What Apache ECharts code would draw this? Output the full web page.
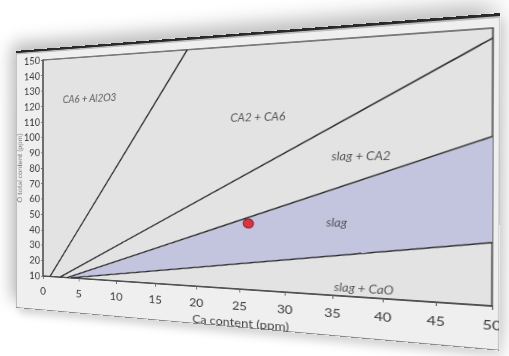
<!DOCTYPE html>
<html>
<head>
<meta charset="utf-8">
<script src="https://cdn.jsdelivr.net/npm/echarts@6/dist/echarts.min.js"></script>
<style>
  html, body { margin: 0; padding: 0; width: 509px; height: 356px; overflow: hidden; background: #ffffff; }
  #panel {
    position: absolute; left: 0; top: 0; width: 524px; height: 351px;
    background: #efefef; overflow: hidden;
    transform-origin: 0 0;
    box-shadow: inset 0 3px 0 #2a2a2a, inset 0 5px 0 #bdbdbd, inset 1px 0 0 #9a9a9a, inset 0 -1px 0 #8a8a8a, inset -1px 0 0 #c8c8c8;
  }
  #shadow {
    position: absolute; left: 0; top: 0; width: 524px; height: 351px;
    transform-origin: 0 0; background: transparent;
    box-shadow: -6px -10px 22px rgba(0,0,0,0.28), 4px 8px 10px rgba(0,0,0,0.12);
  }
  #chart { position: absolute; left: 0; top: 0; width: 524px; height: 351px; }
</style>
</head>
<body>
<div id="shadow"></div>
<div id="panel"><div id="chart"></div></div>
<script>
// ---- data ----
const xTicks = [0, 5, 10, 15, 20, 25, 30, 35, 40, 45, 50];
const yTicks = [10, 20, 30, 40, 50, 60, 70, 80, 90, 100, 110, 120, 130, 140, 150];
const lineCA6Al2O3 = [[1.0, 10], [18.9, 150]];   // CA6+Al2O3 / CA2+CA6
const lineCA2CA6 = [[2.4, 10], [50, 145]];       // CA2+CA6 / slag+CA2
const lineSlagCA2 = [[3.4, 10], [50, 95.5]];     // slag+CA2 / slag
const lineSlagCaO = [[3.9, 10], [50, 42]];       // slag / slag+CaO
const slagRegion = [[3.4, 10], [50, 95.5], [50, 42], [3.9, 10]];
const regionNames = ['CA6 + Al2O3', 'CA2 + CA6', 'slag + CA2', 'slag', 'slag + CaO'];
const regionX = [6.4, 27, 37.8, 35.4, 38.1];
const regionY = [124, 109, 86, 50, 15];
const measuredPoint = [[26, 48]];
const xTitle = 'Ca content (ppm)';
const yTitle = 'O total content (ppm)';

// ---- perspective of the photographed panel ----
function homography(src, dst) {
  const A = [], B = [];
  for (let i = 0; i < 4; i++) {
    const [u, v] = src[i], [x, y] = dst[i];
    A.push([u, v, 1, 0, 0, 0, -u * x, -v * x]); B.push(x);
    A.push([0, 0, 0, u, v, 1, -u * y, -v * y]); B.push(y);
  }
  const n = 8;
  for (let c = 0; c < n; c++) {
    let p = c;
    for (let r = c + 1; r < n; r++) if (Math.abs(A[r][c]) > Math.abs(A[p][c])) p = r;
    [A[c], A[p]] = [A[p], A[c]]; [B[c], B[p]] = [B[p], B[c]];
    for (let r = 0; r < n; r++) {
      if (r === c) continue;
      const f = A[r][c] / A[c][c];
      for (let k = c; k < n; k++) A[r][k] -= f * A[c][k];
      B[r] -= f * B[c];
    }
  }
  return B.map((b, i) => b / A[i][i]);
}
const G = { left: 38, top: 15, right: 6, bottom: 46 };
const W = 524, H = 351;
const src = [[G.left, G.top], [W - G.right, G.top], [W - G.right, H - G.bottom], [G.left, H - G.bottom]];
const dst = [[43, 60], [493, 28], [492, 306], [43, 276]];
const [a, b, c, d, e, f, g, h] = homography(src, dst);
const m3d = `matrix3d(${a},${d},0,${g},${b},${e},0,${h},0,0,1,0,${c},${f},0,1)`;
document.getElementById('panel').style.transform = m3d;
document.getElementById('shadow').style.transform = m3d;

// ---- chart ----
const chart = echarts.init(document.getElementById('chart'), null, { renderer: 'svg' });
const font = 'Lato, "Open Sans", sans-serif';
const lineStyle = { color: '#2b2b2b', width: 1.5 };
const boundary = (data) => ({
  type: 'line', data, symbol: 'none', lineStyle, z: 3, silent: true, animation: false
});
chart.setOption({
  animation: false,
  textStyle: { fontFamily: font },
  grid: { left: G.left, top: G.top, right: G.right, bottom: G.bottom, show: true,
    outerBoundsMode: 'none', containLabel: false,
    backgroundColor: '#e3e3e3', borderColor: '#555', borderWidth: 1.5 },
  xAxis: {
    type: 'value', min: xTicks[0], max: xTicks[xTicks.length - 1], interval: 5,
    axisLine: { show: true, lineStyle: { color: '#444', width: 1.5 } },
    axisTick: { show: true, length: 4, lineStyle: { color: '#666' } },
    axisLabel: { fontSize: 14, color: '#3a3a3a', margin: 12 },
    splitLine: { show: false },
    name: xTitle, nameLocation: 'middle', nameGap: 32, nameMoveOverlap: false,
    nameTextStyle: { fontSize: 14, color: '#444' }
  },
  yAxis: {
    type: 'value', min: yTicks[0], max: yTicks[yTicks.length - 1], interval: 10,
    axisLine: { show: true, lineStyle: { color: '#444', width: 1.5 } },
    axisTick: { show: true, length: 3, lineStyle: { color: '#666' } },
    axisLabel: { fontSize: 13, color: '#3a3a3a', margin: 4 },
    splitLine: { show: false },
    name: yTitle, nameLocation: 'middle', nameGap: 27, nameMoveOverlap: false,
    nameTextStyle: { fontSize: 10, color: '#7a7a7a' }
  },
  series: [
    {
      type: 'custom', z: 2, silent: true,
      data: [0],
      renderItem: (params, api) => ({
        type: 'polygon',
        shape: { points: slagRegion.map(p => api.coord(p)) },
        style: { fill: '#c3c4de', stroke: 'none' }
      })
    },
    boundary(lineCA6Al2O3),
    boundary(lineCA2CA6),
    boundary(lineSlagCA2),
    boundary(lineSlagCaO),
    {
      type: 'scatter', z: 5, silent: true,
      data: regionNames.map((n, i) => ({ name: n, value: [regionX[i], regionY[i]] })),
      symbolSize: 0,
      label: { show: true, position: 'inside', formatter: p => p.name,
        fontSize: 12.5, fontStyle: 'italic', color: '#333', fontFamily: font }
    },
    {
      type: 'scatter', z: 6, data: measuredPoint, symbolSize: 11,
      itemStyle: { color: '#d8141a', borderColor: '#8a0a0a', borderWidth: 1 }
    }
  ]
});
</script>
</body>
</html>
